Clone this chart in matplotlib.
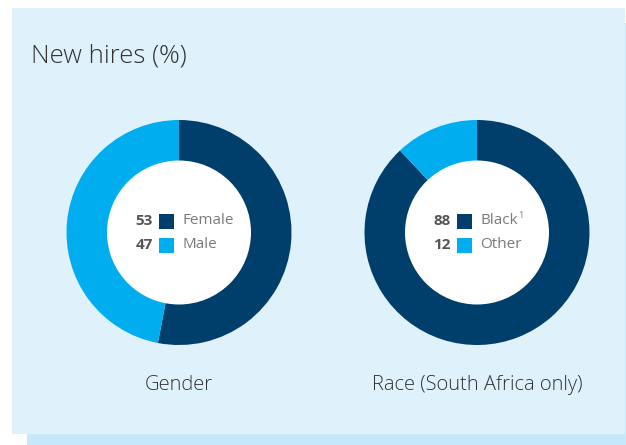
import matplotlib.pyplot as plt
from matplotlib.patches import Rectangle, Circle

W, H = 626, 445
DARK = '#003f6b'
LIGHT = '#00aeef'

title = 'New hires (%)'
gender_labels = ['Female', 'Male']
gender_values = [53, 47]
race_labels = ['Black', 'Other']
race_values = [88, 12]
chart_titles = ['Gender', 'Race (South Africa only)']

fig = plt.figure(figsize=(W / 100, H / 100), dpi=100)
ax = fig.add_axes([0, 0, 1, 1])


def py(y):
    # pixel row (top-down) to data y (bottom-up)
    return H - y


# background panel
ax.add_patch(Rectangle((27, py(445)), W - 27, 12, color='#c6e8f8', lw=0))
ax.add_patch(Rectangle((W - 1, py(445)), 1, 422, color='#c6e8f8', lw=0))
ax.add_patch(Rectangle((12, py(434)), W - 13, 426, color='#dff1fb', lw=0))

ax.text(31, py(56), title, fontsize=18.5, color='#333333', va='center', ha='left',
        family='Open Sans', fontweight='light')

R, r = 112.5, 72
centers = [(179, 232.5), (477, 232.5)]
datasets = [(gender_values, gender_labels), (race_values, race_labels)]

for k, ((cx, cy), (vals, labs), ttl) in enumerate(zip(centers, datasets, chart_titles)):
    ax.pie(vals, colors=[DARK, LIGHT], startangle=90, counterclock=False,
           center=(cx, py(cy)), radius=R, wedgeprops=dict(linewidth=0))
    ax.add_patch(Circle((cx, py(cy)), r, color='white', lw=0, zorder=5))
    for i, (v, lab) in enumerate(zip(vals, labs)):
        yy = py(cy - 11.5 + i * 24)
        ax.text(cx - 26, yy, str(v), fontsize=11, fontweight='bold', color='#555555',
                ha='right', va='center', family='Open Sans', zorder=6)
        ax.add_patch(Rectangle((cx - 20, yy - 7.5), 15, 15,
                               color=[DARK, LIGHT][i], lw=0, zorder=6))
        ax.text(cx + 3, yy, lab, fontsize=11, color='#7a7a7a',
                ha='left', va='center', family='Open Sans', zorder=6)
        if k == 1 and i == 0:
            # footnote marker
            ax.text(cx + 41, yy + 5, '1', fontsize=6.5, color='#7a7a7a',
                    ha='left', va='center', family='Open Sans', zorder=6)
    ax.text(cx, py(385), ttl, fontsize=14.5, color='#333333', ha='center', va='center',
            family='Open Sans', fontweight='light')

ax.set_xlim(0, W)
ax.set_ylim(0, H)
ax.set_aspect('auto')
ax.axis('off')

fig.savefig('out.png', dpi=100)
